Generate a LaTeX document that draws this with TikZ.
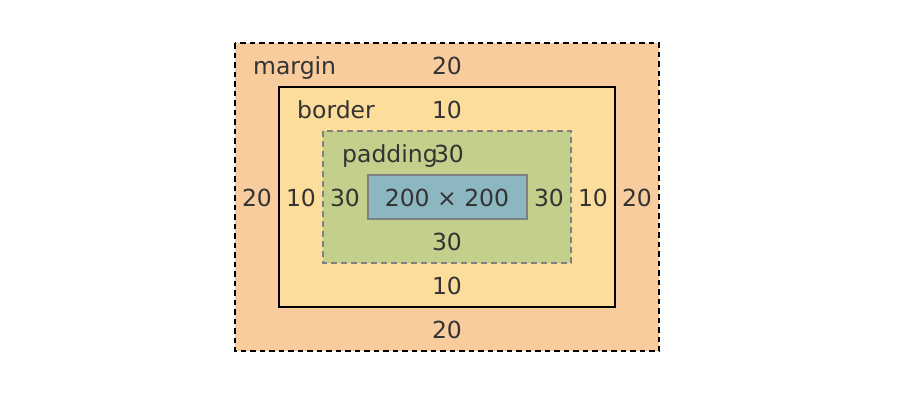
\documentclass[tikz,border=0pt]{standalone}
\usepackage{fontspec}
\setmainfont{DejaVu Sans}
\definecolor{marginc}{HTML}{F9CC9D}
\definecolor{borderc}{HTML}{FDDD9B}
\definecolor{paddingc}{HTML}{C3D08B}
\definecolor{contentc}{HTML}{8CB6C0}
\definecolor{txt}{HTML}{333333}
\definecolor{grayline}{HTML}{808080}
\begin{document}
\begin{tikzpicture}[x=1pt,y=-1pt,
  lbl/.style={font=\fontsize{23.5}{28}\selectfont, text=txt, inner sep=0pt, anchor=base},
  lblw/.style={lbl, anchor=base west},
  marginbox/.style={fill=marginc, draw=black, line width=1.3pt, dash pattern=on 5.5pt off 4pt},
  borderbox/.style={fill=borderc, draw=black, line width=2pt},
  paddingbox/.style={fill=paddingc, draw=grayline, line width=1.6pt, dash pattern=on 6pt off 4pt},
  contentbox/.style={fill=contentc, draw=grayline, line width=2pt}]
\useasboundingbox (0,0) rectangle (906,400);
\fill[white] (0,0) rectangle (906,400);
\draw[marginbox] (235,43) rectangle (659,351);
\draw[borderbox] (279,87) rectangle (615,307);
\draw[paddingbox] (323,131) rectangle (571,263);
\draw[contentbox] (368,175) rectangle (527,219);
% labels
\node[lblw] (lmargin) at (253,74) {margin};
\node[lblw] (lborder) at (297,118) {border};
\node[lblw] (lpadding) at (342,162) {padding};
\node[lbl] (mt) at (447,74) {20};
\node[lbl] (bt) at (447,118) {10};
\node[lbl] (pt) at (449,162) {30};
\node[lbl] (content) at (447,206) {200 × 200};
\node[lbl] (ml) at (257,206) {20};
\node[lbl] (bl) at (301,206) {10};
\node[lbl] (pl) at (345,206) {30};
\node[lbl] (pr) at (549,206) {30};
\node[lbl] (br) at (593,206) {10};
\node[lbl] (mr) at (637,206) {20};
\node[lbl] (pb) at (447,250) {30};
\node[lbl] (bb) at (447,294) {10};
\node[lbl] (mb) at (447,338) {20};
\end{tikzpicture}
\end{document}
